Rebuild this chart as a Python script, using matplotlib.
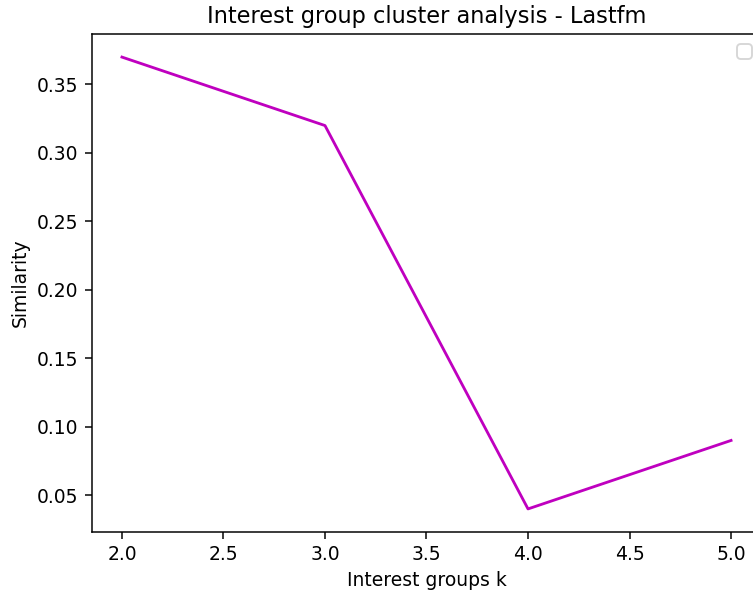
import matplotlib
matplotlib.use("Agg")
import matplotlib.pyplot as plt

# cluster analysis results
k_values = [2, 3, 4, 5]
similarity = [0.37, 0.32, 0.04, 0.09]

dpi = 135
fig = plt.figure(figsize=(753 / dpi, 591 / dpi), dpi=dpi)
# the original image is clipped on the right, so the axes run past the edge
ax = fig.add_axes([91.5 / 753, 59.5 / 591, 670 / 753, 497 / 591])

ax.plot(k_values, similarity, color='m')
ax.set_title('Interest group cluster analysis - Lastfm')
ax.set_xlabel('Interest groups k')
ax.set_ylabel('Similarity')
ax.legend()

fig.savefig('out.png', dpi=dpi)
